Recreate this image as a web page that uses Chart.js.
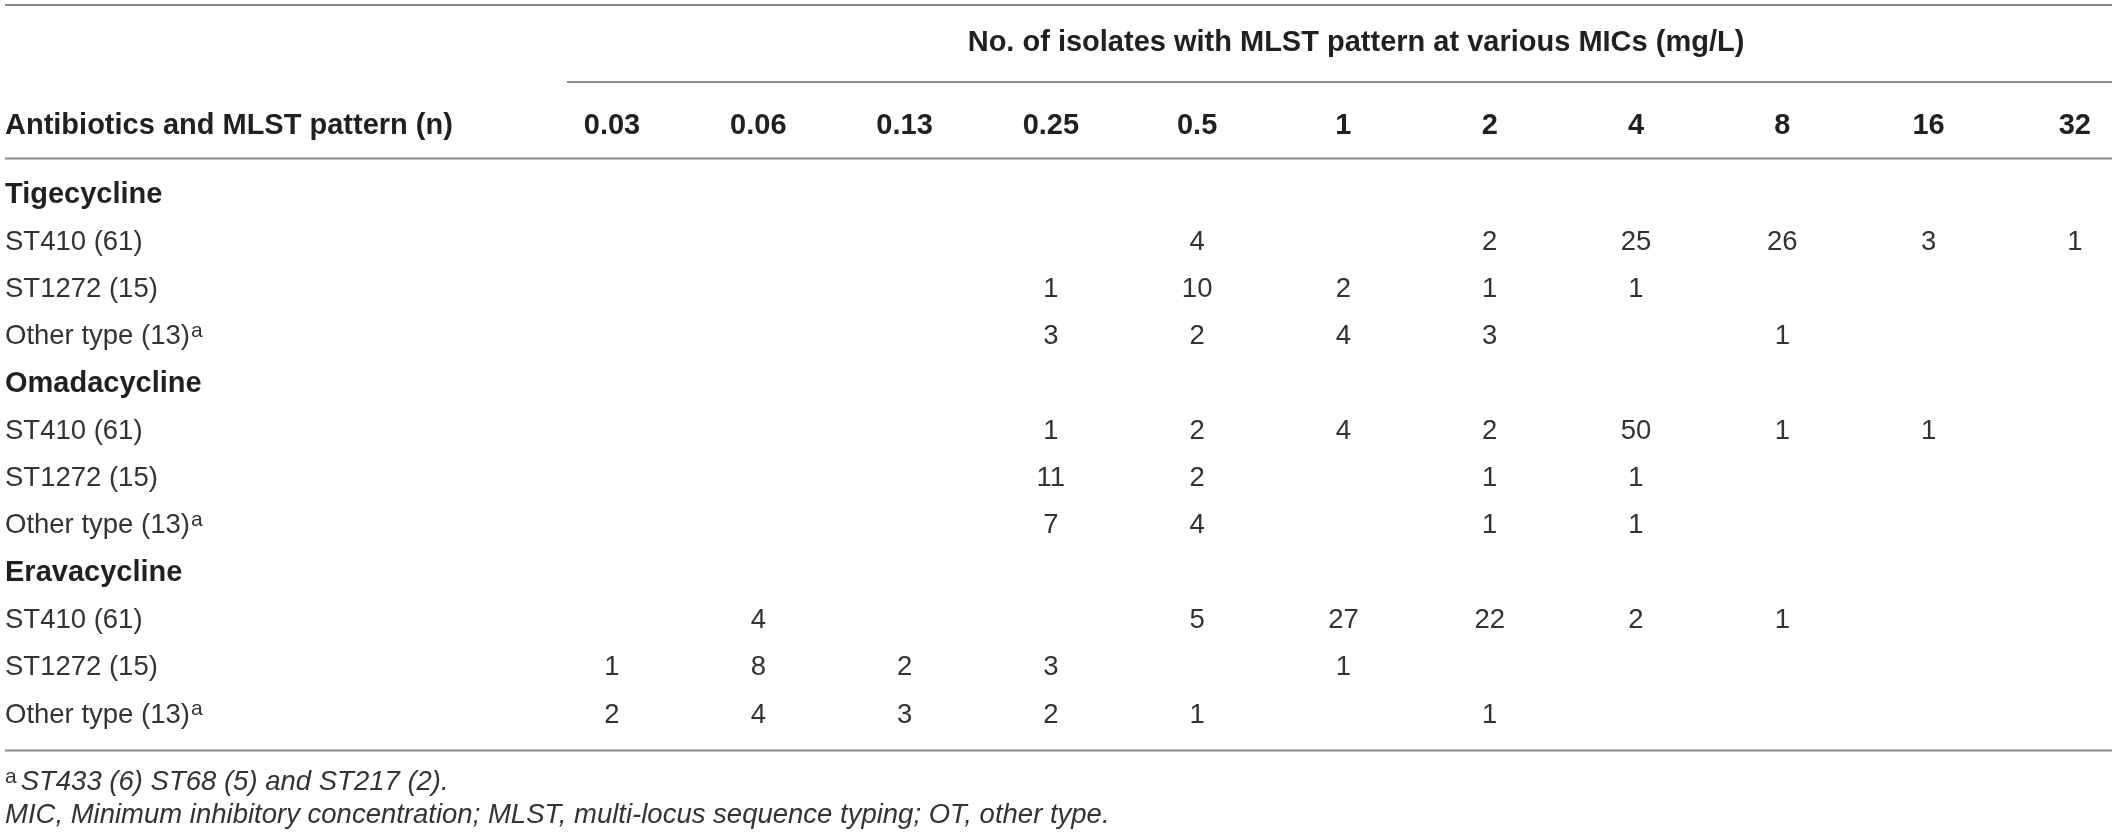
<!DOCTYPE html>
<html>
<head>
<meta charset="utf-8">
<script src="https://cdn.jsdelivr.net/npm/chart.js@4.4.1/dist/chart.umd.min.js"></script>
<style>
html,body{margin:0;padding:0;background:#fff;}
canvas{display:block;}
</style>
</head>
<body>
<canvas id="c" width="2119" height="837" style="width:2119px;height:837px"></canvas>
<script>
// ---------- data ----------
const titleText = 'No. of isolates with MLST pattern at various MICs (mg/L)';
const firstColumnHeader = 'Antibiotics and MLST pattern (n)';
const mics = ['0.03', '0.06', '0.13', '0.25', '0.5', '1', '2', '4', '8', '16', '32'];
const rowLabels = [
  'Tigecycline', 'ST410 (61)', 'ST1272 (15)', 'Other type (13)',
  'Omadacycline', 'ST410 (61)', 'ST1272 (15)', 'Other type (13)',
  'Eravacycline', 'ST410 (61)', 'ST1272 (15)', 'Other type (13)'
];
const rowMarks = ['', '', '', 'a', '', '', '', 'a', '', '', '', 'a'];

const tigST410   = [null, null, null, null, 4, null, 2, 25, 26, 3, 1];
const tigST1272  = [null, null, null, 1, 10, 2, 1, 1, null, null, null];
const tigOther   = [null, null, null, 3, 2, 4, 3, null, 1, null, null];
const omaST410   = [null, null, null, 1, 2, 4, 2, 50, 1, 1, null];
const omaST1272  = [null, null, null, 11, 2, null, 1, 1, null, null, null];
const omaOther   = [null, null, null, 7, 4, null, 1, 1, null, null, null];
const eraST410   = [null, 4, null, null, 5, 27, 22, 2, 1, null, null];
const eraST1272  = [1, 8, 2, 3, null, 1, null, null, null, null, null];
const eraOther   = [2, 4, 3, 2, 1, null, 1, null, null, null, null];

const rowValues = [
  null, tigST410, tigST1272, tigOther,
  null, omaST410, omaST1272, omaOther,
  null, eraST410, eraST1272, eraOther
];

const footnoteMarks = ['a', ''];
const footnoteTexts = [
  'ST433 (6) ST68 (5) and ST217 (2).',
  'MIC, Minimum inhibitory concentration; MLST, multi-locus sequence typing; OT, other type.'
];

// ---------- style ----------
const FAMILY = '"Liberation Sans", Arial, Helvetica, sans-serif';
const TEXT = '#231f20';
const BODY_TEXT = '#333333';
const RULE = '#8a8a8a';
const BODY_SIZE = 27.5;
const BOLD_SIZE = 29;
const SUP_SIZE = 21;
const LEFT = 5;
const RIGHT_EDGE = 2112;
const TICK_PAD = 28;

Chart.defaults.font.family = FAMILY;

const datasets = [];
rowValues.forEach((vals, r) => {
  if (!vals) return;
  const pts = [];
  vals.forEach((v, i) => { if (v !== null) pts.push({ x: mics[i], y: r, v: v }); });
  datasets.push({ label: rowLabels[r], data: pts, pointRadius: 0, pointHoverRadius: 0, borderWidth: 0 });
});

const tablePlugin = {
  id: 'tableText',
  beforeDraw(chart) {
    const ctx = chart.ctx;
    ctx.save();
    ctx.fillStyle = '#fff';
    ctx.fillRect(0, 0, chart.width, chart.height);
    ctx.restore();
  },
  afterDatasetsDraw(chart) {
    const ctx = chart.ctx;
    const xs = chart.scales.x, ys = chart.scales.y;
    const area = chart.chartArea;
    ctx.save();

    // rules
    ctx.strokeStyle = RULE;
    ctx.lineWidth = 2;
    const hline = (x1, x2, y) => { ctx.beginPath(); ctx.moveTo(x1, y); ctx.lineTo(x2, y); ctx.stroke(); };
    hline(LEFT, RIGHT_EDGE, chart.titleBlock.top);
    hline(xs.left - 45, RIGHT_EDGE, xs.top);
    hline(LEFT, RIGHT_EDGE, area.top - 13);
    hline(LEFT, RIGHT_EDGE, area.bottom + 12);

    // first column header (same row as the MIC ticks)
    const headerY = xs.bottom - TICK_PAD - (BOLD_SIZE * 1.2) / 2;
    ctx.fillStyle = TEXT;
    ctx.font = 'bold ' + BOLD_SIZE + 'px ' + FAMILY;
    ctx.textAlign = 'left';
    ctx.textBaseline = 'middle';
    ctx.fillText(firstColumnHeader, LEFT, headerY);

    // cell values
    ctx.font = BODY_SIZE + 'px ' + FAMILY;
    ctx.fillStyle = BODY_TEXT;
    ctx.textAlign = 'center';
    ctx.textBaseline = 'middle';
    chart.data.datasets.forEach((ds, di) => {
      const meta = chart.getDatasetMeta(di);
      meta.data.forEach((el, i) => {
        ctx.fillText(String(ds.data[i].v), el.x, el.y);
      });
    });

    // row labels
    rowLabels.forEach((lab, r) => {
      const y = ys.getPixelForValue(r);
      const group = rowValues[r] === null;
      ctx.textAlign = 'left';
      ctx.textBaseline = 'middle';
      ctx.font = (group ? 'bold ' + BOLD_SIZE : BODY_SIZE) + 'px ' + FAMILY;
      ctx.fillStyle = group ? TEXT : BODY_TEXT;
      ctx.fillText(lab, LEFT, y);
      if (rowMarks[r]) {
        const w = ctx.measureText(lab).width;
        ctx.font = SUP_SIZE + 'px ' + FAMILY;
        ctx.textBaseline = 'alphabetic';
        ctx.fillText(rowMarks[r], LEFT + w + 1, y + 0.5);
      }
    });

    // footnotes
    footnoteTexts.forEach((t, k) => {
      const y = area.bottom + 44 + k * 33;
      let x = LEFT;
      ctx.fillStyle = BODY_TEXT;
      if (footnoteMarks[k]) {
        ctx.font = SUP_SIZE + 'px ' + FAMILY;
        ctx.textBaseline = 'alphabetic';
        ctx.fillText(footnoteMarks[k], x, y + 0.5);
        x += ctx.measureText(footnoteMarks[k]).width + 4;
      }
      ctx.font = 'italic ' + BODY_SIZE + 'px ' + FAMILY;
      ctx.textBaseline = 'middle';
      ctx.fillText(t, x, y);
    });

    ctx.restore();
  }
};

new Chart(document.getElementById('c'), {
  type: 'scatter',
  data: { datasets: datasets },
  options: {
    responsive: false,
    animation: false,
    devicePixelRatio: 1,
    events: [],
    layout: { padding: { top: 5, left: 612, right: 19, bottom: 98.4 } },
    plugins: {
      legend: { display: false },
      tooltip: { enabled: false },
      title: {
        display: true,
        text: titleText,
        color: TEXT,
        font: { size: BOLD_SIZE, weight: 'bold', lineHeight: 1.2 },
        padding: { top: 20.6, bottom: 21.6 }
      }
    },
    scales: {
      x: {
        type: 'category',
        labels: mics,
        position: 'top',
        offset: false,
        grid: { display: false, drawTicks: false },
        border: { display: false },
        ticks: {
          color: TEXT,
          font: { size: BOLD_SIZE, weight: 'bold', lineHeight: 1.2 },
          padding: TICK_PAD,
          autoSkip: false,
          maxRotation: 0,
          minRotation: 0
        },
        afterFit(scale) { scale.height = 89.4; }
      },
      y: {
        type: 'linear',
        display: false,
        reverse: true,
        min: -0.5,
        max: rowLabels.length - 0.5
      }
    }
  },
  plugins: [tablePlugin]
});
</script>
</body>
</html>
